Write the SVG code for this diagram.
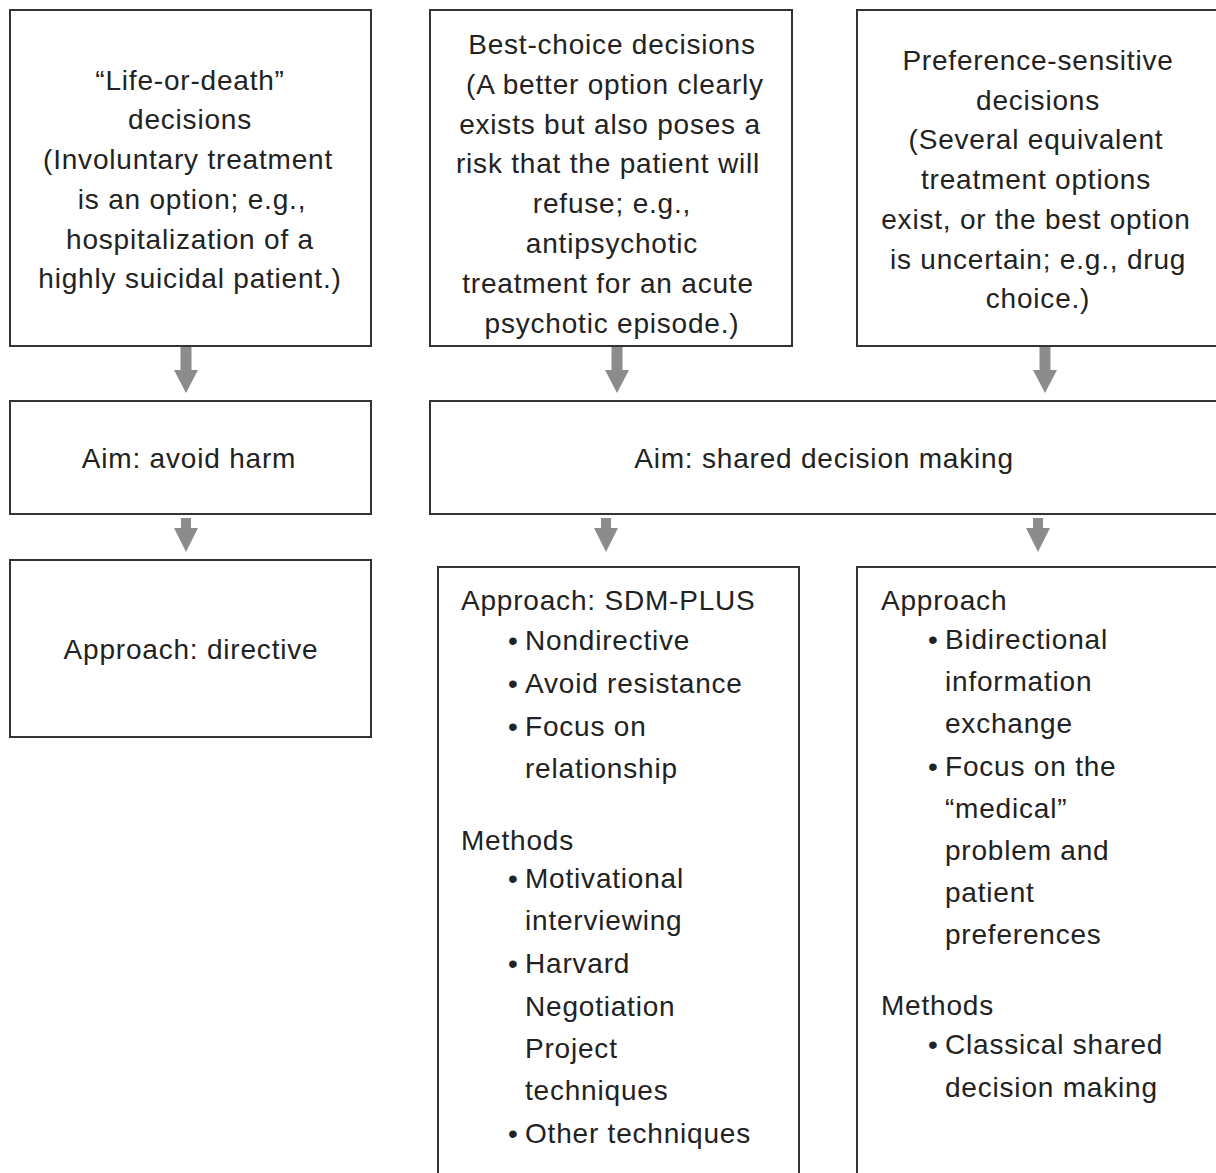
<svg xmlns="http://www.w3.org/2000/svg" width="1216" height="1173" viewBox="0 0 1216 1173">
<style>
  .box { fill: #ffffff; stroke: #333333; stroke-width: 2; }
  text { font-family: "Liberation Sans", Arial, Helvetica, sans-serif; font-size: 28px; fill: #222222; letter-spacing: 0.8px; }
  .c { text-anchor: middle; }
  .arrow { fill: #8c8c8c; }
</style>
<defs>
  <path id="arr1" d="M-5.5,0 H5.5 V23 H12 L0,46 L-12,23 H-5.5 Z"/>
  <path id="arr2" d="M-5,0 H5 V10 H12 L0,34 L-12,10 H-5 Z"/>
</defs>
<rect width="1216" height="1173" fill="#ffffff"/>

<g id="connectors">
  <use href="#arr1" class="arrow" x="186" y="347"/>
  <use href="#arr1" class="arrow" x="617" y="347"/>
  <use href="#arr1" class="arrow" x="1045" y="347"/>
  <use href="#arr2" class="arrow" x="186" y="518"/>
  <use href="#arr2" class="arrow" x="606" y="518"/>
  <use href="#arr2" class="arrow" x="1038" y="518"/>
</g>

<g id="life-or-death">
  <rect class="box" x="10" y="10" width="361" height="336"/>
  <text class="c" x="190" y="90">“Life-or-death”</text>
  <text class="c" x="190" y="129">decisions</text>
  <text class="c" x="188" y="169">(Involuntary treatment</text>
  <text class="c" x="192" y="209">is an option;  e.g.,</text>
  <text class="c" x="190" y="249">hospitalization of a</text>
  <text class="c" x="190" y="288">highly suicidal patient.)</text>
</g>

<g id="best-choice">
  <rect class="box" x="430" y="10" width="362" height="336"/>
  <text class="c" x="612" y="54">Best-choice decisions</text>
  <text class="c" x="615" y="94">(A better option clearly</text>
  <text class="c" x="610" y="134">exists but also poses a</text>
  <text class="c" x="608" y="173">risk that the patient will</text>
  <text class="c" x="612" y="213">refuse; e.g.,</text>
  <text class="c" x="612" y="253">antipsychotic</text>
  <text class="c" x="608" y="293">treatment for an acute</text>
  <text class="c" x="612" y="333">psychotic episode.)</text>
</g>

<g id="preference-sensitive">
  <rect class="box" x="857" y="10" width="380" height="336"/>
  <text class="c" x="1038" y="70">Preference-sensitive</text>
  <text class="c" x="1038" y="110">decisions</text>
  <text class="c" x="1036" y="149">(Several equivalent</text>
  <text class="c" x="1036" y="189">treatment options</text>
  <text class="c" x="1036" y="229">exist, or the best option</text>
  <text class="c" x="1038" y="269">is uncertain; e.g., drug</text>
  <text class="c" x="1038" y="308">choice.)</text>
</g>

<g id="aim-avoid-harm">
  <rect class="box" x="10" y="401" width="361" height="113"/>
  <text class="c" x="189" y="468">Aim: avoid harm</text>
</g>

<g id="aim-shared">
  <rect class="box" x="430" y="401" width="807" height="113"/>
  <text class="c" x="824" y="468">Aim: shared decision making</text>
</g>

<g id="approach-directive">
  <rect class="box" x="10" y="560" width="361" height="177"/>
  <text class="c" x="191" y="659">Approach: directive</text>
</g>

<g id="approach-sdm-plus">
  <rect class="box" x="438" y="567" width="361" height="620"/>
  <text x="461" y="610">Approach: SDM-PLUS</text>
  <text x="508" y="650">•<tspan x="525">Nondirective</tspan></text>
  <text x="508" y="693">•<tspan x="525">Avoid resistance</tspan></text>
  <text x="508" y="736">•<tspan x="525">Focus on</tspan></text>
  <text x="525" y="778">relationship</text>
  <text x="461" y="850">Methods</text>
  <text x="508" y="888">•<tspan x="525">Motivational</tspan></text>
  <text x="525" y="930">interviewing</text>
  <text x="508" y="973">•<tspan x="525">Harvard</tspan></text>
  <text x="525" y="1016">Negotiation</text>
  <text x="525" y="1058">Project</text>
  <text x="525" y="1100">techniques</text>
  <text x="508" y="1143">•<tspan x="525">Other techniques</tspan></text>
</g>

<g id="approach-classical">
  <rect class="box" x="857" y="567" width="380" height="620"/>
  <text x="881" y="610">Approach</text>
  <text x="928" y="649">•<tspan x="945">Bidirectional</tspan></text>
  <text x="945" y="691">information</text>
  <text x="945" y="733">exchange</text>
  <text x="928" y="776">•<tspan x="945">Focus on the</tspan></text>
  <text x="945" y="818">“medical”</text>
  <text x="945" y="860">problem and</text>
  <text x="945" y="902">patient</text>
  <text x="945" y="944">preferences</text>
  <text x="881" y="1015">Methods</text>
  <text x="928" y="1054">•<tspan x="945">Classical shared</tspan></text>
  <text x="945" y="1097">decision making</text>
</g>
</svg>
